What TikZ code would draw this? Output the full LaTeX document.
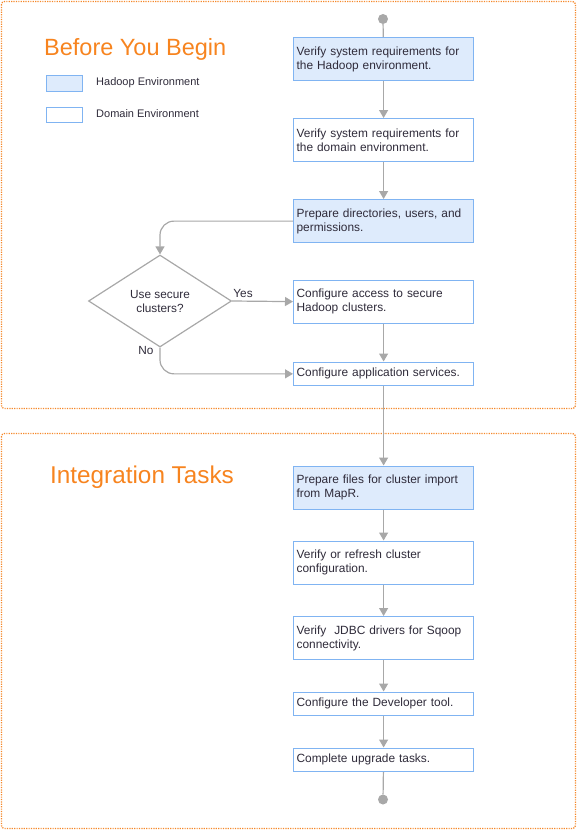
\documentclass[tikz,border=0pt]{standalone}
\usepackage{fontspec}
\setmainfont{Liberation Sans}
\usetikzlibrary{shapes.geometric,arrows.meta}
\definecolor{orangeF}{HTML}{F5882A}
\definecolor{titleO}{HTML}{F7841F}
\definecolor{boxB}{HTML}{80B4F2}
\definecolor{boxF}{HTML}{DEEBFC}
\definecolor{lineG}{HTML}{A8A8A8}
\definecolor{txt}{HTML}{2F2B3A}
\begin{document}
\begin{tikzpicture}[x=1pt,y=-1pt,
  frame/.style={draw=orangeF, line width=1.3pt, dash pattern=on 1.2pt off 1.2pt, rounded corners=3pt},
  taskbox/.style={draw=boxB, line width=1.2pt, minimum width=180pt, text width=174pt, align=left,
    inner xsep=3pt, inner ysep=0pt, font=\fontsize{11.9}{14}\selectfont, text=txt, anchor=north west},
  hadtask/.style={taskbox, fill=boxF},
  domtask/.style={taskbox, fill=white},
  twoline/.style={minimum height=43pt},
  oneline/.style={minimum height=23.5pt},
  conn/.style={draw=lineG, line width=1.2pt, -{Triangle[length=8pt,width=9pt]}},
  plainline/.style={draw=lineG, line width=1.2pt},
  enddot/.style={circle, fill=lineG, inner sep=0pt, minimum size=10pt},
  ttl/.style={text=titleO, anchor=base west, inner sep=0pt},
  legendlbl/.style={font=\fontsize{11}{13}\selectfont, text=txt, anchor=west, inner sep=0pt},
  lbl/.style={font=\fontsize{11.8}{13}\selectfont, text=txt, inner sep=0pt},
  decision/.style={diamond, draw=lineG, line width=1.2pt, aspect=1.55, minimum width=143pt, minimum height=92pt,
    inner sep=0pt, align=center, font=\fontsize{11.8}{14}\selectfont, text=txt}
]
\useasboundingbox (0,0) rectangle (577,830);
% frames
\draw[frame] (1.5,1.5) rectangle (575.5,408.5);
\draw[frame] (1.5,433.5) rectangle (575.5,828.5);
% titles
\node[ttl, font=\fontsize{23.5}{26}\selectfont] (t1) at (44,55.7) {Before You Begin};
\node[ttl, font=\fontsize{24.3}{26}\selectfont] (t2) at (50,483.7) {Integration Tasks};
% legend
\node[draw=boxB, fill=boxF, line width=1.2pt, minimum width=36pt, minimum height=15.5pt, inner sep=0pt, anchor=north west] (lh) at (46,75) {};
\node[draw=boxB, fill=white, line width=1.2pt, minimum width=36pt, minimum height=15.5pt, inner sep=0pt, anchor=north west] (ld) at (46,106.5) {};
\node[legendlbl] (lht) at (96,82.5) {Hadoop Environment};
\node[legendlbl] (ldt) at (96,114) {Domain Environment};
% start / end
\node[enddot] (start) at (383,19) {};
\node[enddot] (end) at (383,799.5) {};
% tasks
\node[hadtask, twoline] (b1) at (293,37) {Verify system requirements for\\the Hadoop environment.};
\node[domtask, twoline] (b2) at (293,118) {Verify system requirements for\\the domain environment.};
\node[hadtask, twoline] (b3) at (293,199) {Prepare directories, users, and\\permissions.};
\node[domtask, twoline] (b4) at (293,279.5) {Configure access to secure\\Hadoop clusters.};
\node[domtask, oneline] (b5) at (293,361.5) {Configure application services.};
\node[hadtask, twoline] (b6) at (293,465.5) {Prepare files for cluster import\\from MapR.};
\node[domtask, twoline] (b7) at (293,540.5) {Verify or refresh cluster\\configuration.};
\node[domtask, twoline] (b8) at (293,616) {Verify\ \ JDBC drivers for Sqoop\\connectivity.};
\node[domtask, oneline] (b9) at (293,691.5) {Configure the Developer tool.};
\node[domtask, oneline] (b10) at (293,747.5) {Complete upgrade tasks.};
% decision
\node[decision] (d) at (160,301) {Use secure\\clusters?};
% connectors
\draw[plainline] (start) -- (b1);
\draw[conn] (b1) -- (b2);
\draw[conn] (b2) -- (b3);
\draw[conn, rounded corners=14pt] (b3.west) -| (d.north);
\draw[conn] (d.east) -- (b4.west) node[lbl, pos=0.18, above=3pt] (yes) {Yes};
\draw[conn] (b4) -- (b5);
\draw[conn, rounded corners=14pt] (d.south) |- (b5.west);
\node[lbl] (no) at (146,350) {No};
\draw[conn] (b5) -- (b6);
\draw[conn] (b6) -- (b7);
\draw[conn] (b7) -- (b8);
\draw[conn] (b8) -- (b9);
\draw[conn] (b9) -- (b10);
\draw[plainline] (b10) -- (end);
\end{tikzpicture}
\end{document}
